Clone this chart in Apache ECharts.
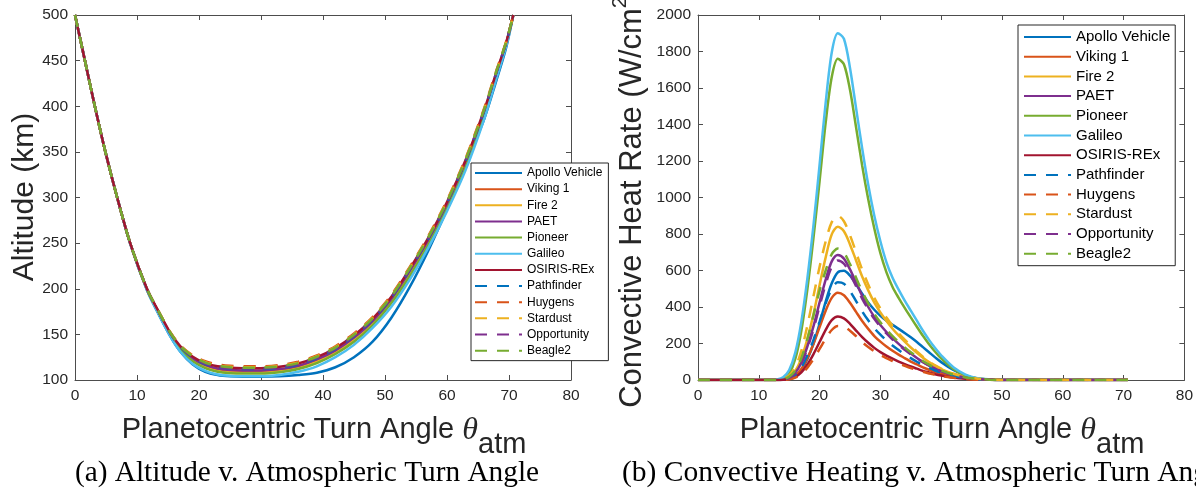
<!DOCTYPE html>
<html>
<head>
<meta charset="utf-8">
<script src="https://cdn.jsdelivr.net/npm/echarts@6/dist/echarts.min.js"></script>
<style>
html,body{margin:0;padding:0;background:#fff;}
#chart{width:1196px;height:490px;}
</style>
</head>
<body>
<div id="chart"></div>
<script>
// ---------- DATA ----------
const seriesNames = ['Apollo Vehicle','Viking 1','Fire 2','PAET','Pioneer','Galileo','OSIRIS-REx','Pathfinder','Huygens','Stardust','Opportunity','Beagle2'];
const seriesColors = ['#0072BD','#D95319','#EDB120','#7E2F8E','#77AC30','#4DBEEE','#A2142F','#0072BD','#D95319','#EDB120','#7E2F8E','#77AC30'];
const seriesDashed = [false,false,false,false,false,false,false,true,true,true,true,true];

const xTicks = [0,10,20,30,40,50,60,70,80];
const altTicks = [100,150,200,250,300,350,400,450,500];
const heatTicks = [0,200,400,600,800,1000,1200,1400,1600,1800,2000];

// Altitude (km) vs turn angle (deg)
const altX = [0,1.6,3.2,4.9,6.8,8.9,11.6,13.5,15.4,17,19,21,23,25,27,30,33,36,39,42,45,48,51,54,57,60,63,66,68,69.5,70.7];
const altApollo      = [500,450,400,350,300,249.5,198.5,172,147.5,131,117,109,105.5,104,103.5,103.5,104,105.5,108,114,125,142,168,202,242,287,336,386,429,463,500];
const altViking      = [500,450,400,350,300,250,199.5,174,150,134.5,122.5,115,111,109.5,109,109,110.5,114,121,131,145,163,187,218,252,291,337,392,435.5,467.5,500];
const altFire2       = [500,450,400,350,300,250,199.5,173.5,149.5,134,121.5,114,110,108.5,108,108,109.5,113,120,130,144,162,186,216,250,289,335,390,434.5,467,500];
const altPAET        = [500,450,400,350,300,250,200,174,150.5,135.5,123.5,116.5,112.5,111,110.5,110.5,112,115.5,122.5,132.5,146.5,164.5,188.5,219.5,253.5,292.5,338.5,393.5,436.5,468,500];
const altPioneer     = [500,450,400,350,300,250,199.5,173,149,133,120.5,113,109,107.5,107,107,108.5,112,118.5,128.5,142,160,184,214,248,287,333,389,433.5,466.5,500];
const altGalileo     = [500,450,400,350,300,249.5,198.5,172,147.5,131,117.5,110,106,104.5,104,104,105.5,109,115,125,138.5,157,180,210,245,285,330,386,431,465,500];
const altOsiris      = [500,450,400,350,300,250,200,175,151.5,137,125.5,118.5,115,113.5,113,113,114.5,118,125,135,149,167,191,222,256,295,341,396,438,469,500];
const altPathfinder  = [500,450,400,350,300,250,200,174.5,151,136,124.5,117.5,114,112.5,112,112,113.5,117,124,134,148,166,190,221,255,294,340,395,437.5,468.5,500];
const altHuygens     = [500,450,400,350,300,250,200,175,152,138,127,120.5,117,115.5,115,115,116.5,120,127,137,151,169,193,224,258,297,343,398,440,470,500];
const altStardust    = [500,450,400,350,300,250,200,175,152,137.5,126.5,119.5,116,114.5,114,114,115.5,119,126,136,150,168,192,223,257,296,342,397,439,470,500];
const altOpportunity = [500,450,400,350,300,250,200,174.5,151,136.5,125,118,114.5,113,112.5,112.5,114,117.5,124.5,134.5,148.5,166.5,190.5,221.5,255.5,294.5,340.5,395.5,438,469,500];
const altBeagle2     = [500,450,400,350,300,250,200,175,151.5,137,126,119,115.5,114,113.5,113.5,115,118.5,125.5,135.5,149.5,167.5,191.5,222.5,256.5,295.5,341.5,396.5,439,469.5,500];

// Convective heat rate (W/cm^2) vs turn angle (deg)
const heatX = [0,10,12,13,14,15,16,17,18,19,20,21,22,23,24,25,26,27,28,29,30,31,32,33,34,35,36,37,38,39,40,42,44,46,48,50,55,70.7];
const heatApollo      = [0,0,0,0,1,6,22,55,115,200,310,430,530,590,598,572,525,473,425,385,352,325,302,280,258,234,208,180,152,124,98,55,25,8,2,0,0,0];
const heatViking      = [0,0,0,0,2,8,25,60,120,198,290,380,450,478,464,423,373,323,280,241,210,184,160,139,120,101,85,69,56,44,34,19,10,4,1,0,0,0];
const heatFire2       = [0,0,0,0,4,17,50,118,227,361,521,672,798,840,815,743,655,567,491,424,370,323,281,244,210,178,149,122,98,77,60,34,17,7,3,0,0,0];
const heatPAET        = [0,0,0,0,3,13,40,95,185,295,425,550,650,685,665,606,534,462,400,346,301,263,229,198,171,145,121,99,80,63,49,27,14,5,2,0,0,0];
const heatPioneer     = [0,0,0,0,8,35,115,270,500,780,1090,1410,1660,1760,1730,1590,1385,1175,990,830,695,590,510,450,395,343,292,242,196,155,118,60,25,8,2,0,0,0];
const heatGalileo     = [0,0,0,3,15,55,150,320,560,850,1180,1520,1795,1900,1870,1710,1490,1270,1070,900,760,645,560,495,435,380,325,270,220,175,135,70,30,10,3,0,0,0];
const heatOsiris      = [0,0,0,0,1,5,17,42,85,142,208,275,328,348,338,308,271,235,204,176,153,134,117,101,87,74,62,50,41,32,25,14,7,3,1,0,0,0];
const heatPathfinder  = [0,0,0,0,2,9,28,68,135,220,320,420,500,535,528,487,432,376,327,284,248,217,189,164,141,120,100,82,66,52,40,22,11,4,1,0,0,0];
const heatHuygens     = [0,0,0,0,1,4,13,33,68,115,170,226,274,296,293,270,240,208,181,157,137,120,104,90,78,66,55,45,36,29,22,12,6,2,1,0,0,0];
const heatStardust    = [0,0,0,0,6,25,70,160,300,460,620,760,865,900,870,793,700,605,523,450,392,342,297,257,221,187,156,127,102,80,62,34,17,7,2,0,0,0];
const heatOpportunity = [0,0,0,0,3,12,38,90,175,280,405,525,620,655,637,582,514,446,387,335,292,255,222,192,166,141,118,97,78,61,48,26,13,5,2,0,0,0];
const heatBeagle2     = [0,0,0,0,4,18,52,120,225,355,490,600,690,720,698,635,560,485,420,363,316,276,240,208,179,152,127,104,84,66,52,29,14,6,2,0,0,0];

const altData  = [altApollo,altViking,altFire2,altPAET,altPioneer,altGalileo,altOsiris,altPathfinder,altHuygens,altStardust,altOpportunity,altBeagle2];
const heatData = [heatApollo,heatViking,heatFire2,heatPAET,heatPioneer,heatGalileo,heatOsiris,heatPathfinder,heatHuygens,heatStardust,heatOpportunity,heatBeagle2];

// ---------- CHART ----------
const FONT = 'Liberation Sans, Arial, Helvetica, sans-serif';
const SERIF = 'Liberation Serif, Times New Roman, serif';
const AX = '#4d4d4d';
const LBL = '#262626';

function mkX(grid, pos) {
  return {
    gridIndex: grid, type: 'value', position: pos, min: 0, max: 80, interval: 10,
    axisLine: {show: true, onZero: false, lineStyle: {color: AX, width: 1}},
    axisTick: {show: true, inside: true, length: 5, lineStyle: {color: AX}},
    axisLabel: {show: pos === 'bottom', fontSize: 15.5, color: LBL, fontFamily: FONT, margin: 8, formatter: v => String(v)},
    splitLine: {show: false}
  };
}
function mkY(grid, pos, min, max, interval) {
  return {
    gridIndex: grid, type: 'value', position: pos, min: min, max: max, interval: interval,
    axisLine: {show: true, onZero: false, lineStyle: {color: AX, width: 1}},
    axisTick: {show: true, inside: true, length: 5, lineStyle: {color: AX}},
    axisLabel: {show: pos === 'left', fontSize: 15.5, color: LBL, fontFamily: FONT, margin: 7, formatter: v => String(v)},
    splitLine: {show: false}
  };
}

const series = [];
function addSeries(xIdx, xs, dataSet) {
  seriesNames.forEach((n, i) => {
    series.push({
      name: n, type: 'line', xAxisIndex: xIdx, yAxisIndex: xIdx,
      data: xs.map((x, k) => [x, dataSet[i][k]]),
      smooth: 0.3, symbol: 'none', showSymbol: false,
      lineStyle: {color: seriesColors[i], width: 2.5, type: seriesDashed[i] ? [12, 10] : 'solid'},
      itemStyle: {color: seriesColors[i]},
      silent: true, z: 2 + i
    });
  });
}
addSeries(0, altX, altData);
addSeries(2, heatX, heatData);

const chart = echarts.init(document.getElementById('chart'), null, {renderer: 'canvas'});
chart.setOption({
  animation: false,
  backgroundColor: '#ffffff',
  grid: [
    {left: 75, right: 625, top: 15, bottom: 110},
    {left: 698, right: 11, top: 15, bottom: 110}
  ],
  xAxis: [mkX(0,'bottom'), mkX(0,'top'), mkX(1,'bottom'), mkX(1,'top')],
  yAxis: [mkY(0,'left',100,500,50), mkY(0,'right',100,500,50), mkY(1,'left',0,2000,200), mkY(1,'right',0,2000,200)],
  legend: [
    {
      data: seriesNames, orient: 'vertical', left: 471, top: 163,
      itemWidth: 47, itemHeight: 12, itemGap: 4.15, padding: [4, 6, 4, 3],
      borderColor: '#262626', borderWidth: 1, backgroundColor: '#ffffff',
      itemStyle: {opacity: 0},
      textStyle: {fontSize: 12, lineHeight: 12, color: '#000', fontFamily: FONT},
      selectedMode: false, z: 20
    },
    {
      data: seriesNames, orient: 'vertical', left: 1018, top: 25,
      itemWidth: 47, itemHeight: 15, itemGap: 4.7, padding: [4.5, 5, 4.5, 5],
      borderColor: '#262626', borderWidth: 1, backgroundColor: '#ffffff',
      itemStyle: {opacity: 0},
      textStyle: {fontSize: 15, lineHeight: 15, color: '#000', fontFamily: FONT},
      selectedMode: false, z: 20
    }
  ],
  graphic: [
    {type: 'text', x: 25, y: 197, rotation: Math.PI / 2, z: 30,
     style: {text: 'Altitude (km)', fontSize: 30, fontFamily: FONT, fill: LBL, align: 'center', verticalAlign: 'middle'}},
    {type: 'text', x: 632, y: 197, rotation: Math.PI / 2, z: 30,
     style: {text: '{m|Convective Heat Rate (W/cm}{s|2}{m|)}', fontSize: 31, fontFamily: FONT, fill: LBL, align: 'center', verticalAlign: 'middle',
       rich: {m: {fontSize: 31, fontFamily: FONT, fill: LBL, lineHeight: 44}, s: {fontSize: 21, fontFamily: FONT, fill: LBL, lineHeight: 24, verticalAlign: 'top'}}}},
    {type: 'text', x: 324, y: 445, z: 30,
     style: {text: '{m|Planetocentric Turn Angle }{t|θ}{s|atm}', fontSize: 29, fontFamily: FONT, fill: LBL, align: 'center', verticalAlign: 'middle',
       rich: {m: {fontSize: 29, fontFamily: FONT, fill: LBL, lineHeight: 40, verticalAlign: 'top'},
              t: {fontSize: 32, fontFamily: SERIF, fontStyle: 'italic', fill: LBL, lineHeight: 40, verticalAlign: 'top'},
              s: {fontSize: 29, fontFamily: FONT, fill: LBL, lineHeight: 60}}}},
    {type: 'text', x: 942, y: 445, z: 30,
     style: {text: '{m|Planetocentric Turn Angle }{t|θ}{s|atm}', fontSize: 29, fontFamily: FONT, fill: LBL, align: 'center', verticalAlign: 'middle',
       rich: {m: {fontSize: 29, fontFamily: FONT, fill: LBL, lineHeight: 40, verticalAlign: 'top'},
              t: {fontSize: 32, fontFamily: SERIF, fontStyle: 'italic', fill: LBL, lineHeight: 40, verticalAlign: 'top'},
              s: {fontSize: 29, fontFamily: FONT, fill: LBL, lineHeight: 60}}}},
    {type: 'text', x: 307, y: 473, z: 30,
     style: {text: '(a) Altitude v. Atmospheric Turn Angle', fontSize: 29.3, fontFamily: SERIF, fill: '#000', align: 'center', verticalAlign: 'middle'}},
    {type: 'text', x: 622, y: 473, z: 30,
     style: {text: '(b) Convective Heating v. Atmospheric Turn Angle', fontSize: 29.5, fontFamily: SERIF, fill: '#000', align: 'left', verticalAlign: 'middle'}}
  ],
  series: series
});
</script>
</body>
</html>
